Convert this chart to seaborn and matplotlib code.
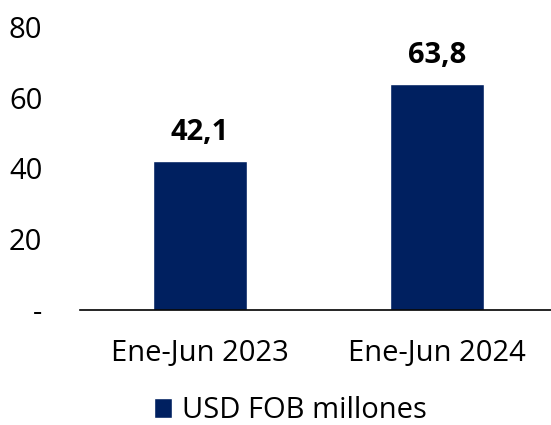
import matplotlib
matplotlib.use('Agg')
import matplotlib.pyplot as plt
import seaborn as sns
import pandas as pd

periods = ['Ene-Jun 2023', 'Ene-Jun 2024']
values = [42.1, 63.8]
series_name = 'USD FOB millones'
bar_color = '#002060'

df = pd.DataFrame({'periodo': periods, 'valor': values})

sns.set_style('white')
plt.rcParams['font.family'] = ['Open Sans', 'DejaVu Sans']
plt.rcParams['text.color'] = 'black'
plt.rcParams['xtick.color'] = 'black'
plt.rcParams['ytick.color'] = 'black'

fig = plt.figure(figsize=(5.51, 4.25), dpi=100)
ax = fig.add_axes([80 / 551, 0.2706, 471 / 551, 0.666])
sns.barplot(data=df, x='periodo', y='valor', color=bar_color, width=0.397,
            saturation=1, ax=ax, label=series_name)

for i, v in enumerate(values):
    ax.text(i, v + 4, '{:.1f}'.format(v).replace('.', ','), ha='center', va='bottom',
            fontsize=21, fontweight='bold', color='black')

ax.set_ylim(0, 80)
ax.set_xlim(-0.506, 1.481)
ax.set_yticks([0, 20, 40, 60, 80])
ax.set_yticklabels(['-', '20', '40', '60', '80'])
ax.tick_params(axis='both', labelsize=21, length=0)
ax.tick_params(axis='y', pad=27)
ax.tick_params(axis='x', pad=21)
ax.set_xlabel('')
ax.set_ylabel('')
for side in ['left', 'right', 'top']:
    ax.spines[side].set_visible(False)
ax.spines['bottom'].set_color('black')
ax.spines['bottom'].set_linewidth(1.2)

ax.legend(loc='center', bbox_to_anchor=(0.447, -0.356), frameon=False,
          fontsize=21, handlelength=0.6, handleheight=0.7, handletextpad=0.35)

fig.savefig('out.png', dpi=100)
